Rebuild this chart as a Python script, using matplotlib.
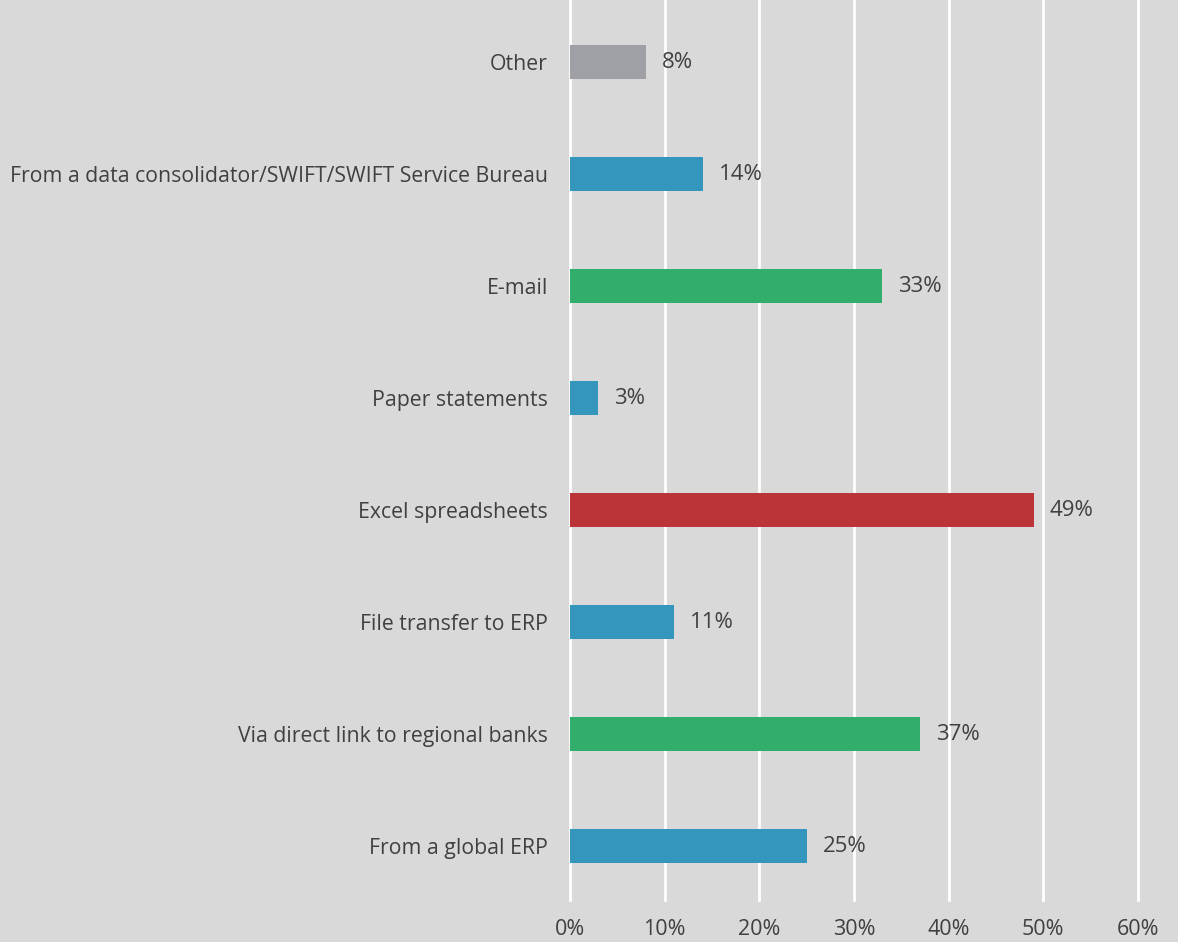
import matplotlib
matplotlib.use("Agg")
import matplotlib.pyplot as plt

categories = [
    "From a global ERP",
    "Via direct link to regional banks",
    "File transfer to ERP",
    "Excel spreadsheets",
    "Paper statements",
    "E-mail",
    "From a data consolidator/SWIFT/SWIFT Service Bureau",
    "Other",
]
values = [25, 37, 11, 49, 3, 33, 14, 8]
colors = ["#3496bc", "#31ae6c", "#3496bc", "#bb3438",
          "#3496bc", "#31ae6c", "#3496bc", "#9ea0a6"]
xticks = [0, 10, 20, 30, 40, 50, 60]

plt.rcParams["font.family"] = ["Open Sans", "DejaVu Sans"]
text_color = "#404040"
bg = "#d9d9d9"

fig = plt.figure(figsize=(11.78, 9.42), dpi=100, facecolor=bg)
ax = fig.add_axes([570 / 1178, 1 - 900 / 942, (1138 - 570) / 1178, 900 / 942])
ax.set_facecolor(bg)

y = list(range(len(categories)))
ax.barh(y, values, height=0.31, color=colors, zorder=3)

for yi, v in zip(y, values):
    ax.annotate(f"{v}%", xy=(v, yi), xytext=(11.5, 0), textcoords="offset points",
                va="center", ha="left", fontsize=16, color=text_color)

ax.set_xlim(0, 60)
ax.set_ylim(-0.482, 7.554)
ax.set_xticks(xticks)
ax.set_xticklabels([f"{t}%" for t in xticks])
ax.set_yticks(y)
ax.set_yticklabels(categories)
ax.tick_params(axis="both", length=0, labelcolor=text_color)
ax.tick_params(axis="y", pad=16, labelsize=15.3)
ax.tick_params(axis="x", pad=14, labelsize=15.5)

for t in xticks:
    ax.axvline(t, color="white", linewidth=2, zorder=1, clip_on=False)
for s in ax.spines.values():
    s.set_visible(False)

fig.savefig("out.png", dpi=100, facecolor=bg)
